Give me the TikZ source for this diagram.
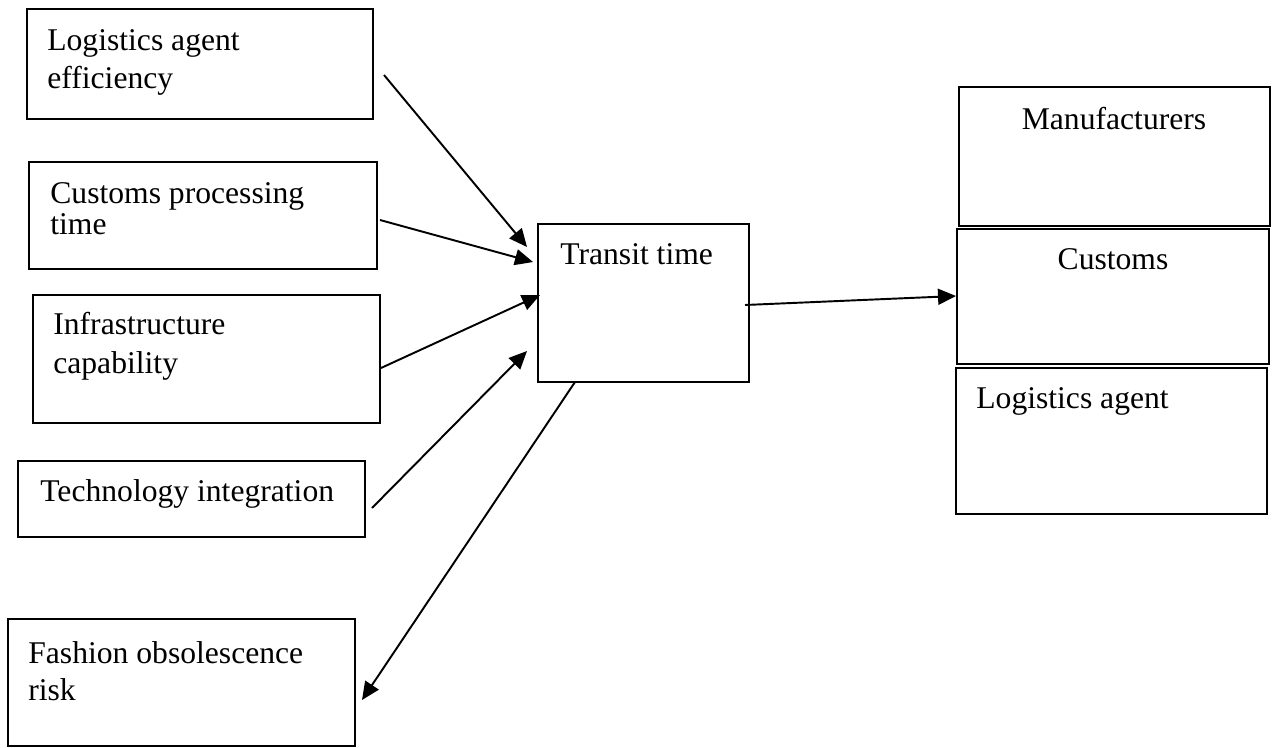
\documentclass[tikz,border=0pt]{standalone}
\usepackage{fontspec}
\setmainfont{Liberation Serif}
\usetikzlibrary{arrows.meta,fit}
\begin{document}
\begin{tikzpicture}[x=0.02cm,y=-0.02cm,
  box/.style={draw, line width=1pt, inner sep=0pt},
  lbl/.style={anchor=base west, inner sep=0pt, font=\fontsize{18}{22}\selectfont},
  clbl/.style={anchor=base, inner sep=0pt, font=\fontsize{18}{22}\selectfont},
  arr/.style={line width=1.1pt, -{Triangle[length=0.36cm,width=0.32cm]}}]
\useasboundingbox (0,0) rectangle (1273,747);
% boxes
\node[box, fit={(27,9) (373,119)}] (b1) {};
\node[box, fit={(29,162) (377,269)}] (b2) {};
\node[box, fit={(33,295) (380,423)}] (b3) {};
\node[box, fit={(18,461) (365,537)}] (b4) {};
\node[box, fit={(8,619) (355,746)}] (b5) {};
\node[box, fit={(538,224) (749,382)}] (tt) {};
\node[box, fit={(959,87) (1270,226)}] (mf) {};
\node[box, fit={(957,229) (1269,364)}] (cu) {};
\node[box, fit={(956,368) (1267,514)}] (la) {};
% texts
\node[lbl] (t1a) at (47,50) {Logistics agent};
\node[lbl] (t1b) at (47,88) {efficiency};
\node[lbl] (t2a) at (50,203) {Customs processing};
\node[lbl] (t2b) at (50,234) {time};
\node[lbl] (t3a) at (53,334) {Infrastructure};
\node[lbl] (t3b) at (53,373) {capability};
\node[lbl] (t4) at (40,501) {Technology integration};
\node[lbl] (t5a) at (28,663) {Fashion obsolescence};
\node[lbl] (t5b) at (28,700) {risk};
\node[lbl] (tt1) at (560,264) {Transit time};
\node[clbl] (mft) at (1114,129) {Manufacturers};
\node[clbl] (cut) at (1113,269) {Customs};
\node[lbl] (lat) at (976,408) {Logistics agent};
% connector ends
\coordinate (s1) at (384,75);  \coordinate (e1) at (527,247);
\coordinate (s2) at (380,220); \coordinate (e2) at (533,262);
\coordinate (s3) at (381,368); \coordinate (e3) at (540,295);
\coordinate (s4) at (372,508); \coordinate (e4) at (527,351);
\coordinate (s5) at (575,382); \coordinate (e5) at (362,700);
\coordinate (s6) at (745,305); \coordinate (e6) at (956,296);
\draw[arr] (s1) -- (e1);
\draw[arr] (s2) -- (e2);
\draw[arr] (s3) -- (e3);
\draw[arr] (s4) -- (e4);
\draw[arr] (s5) -- (e5);
\draw[arr] (s6) -- (e6);
\end{tikzpicture}
\end{document}
